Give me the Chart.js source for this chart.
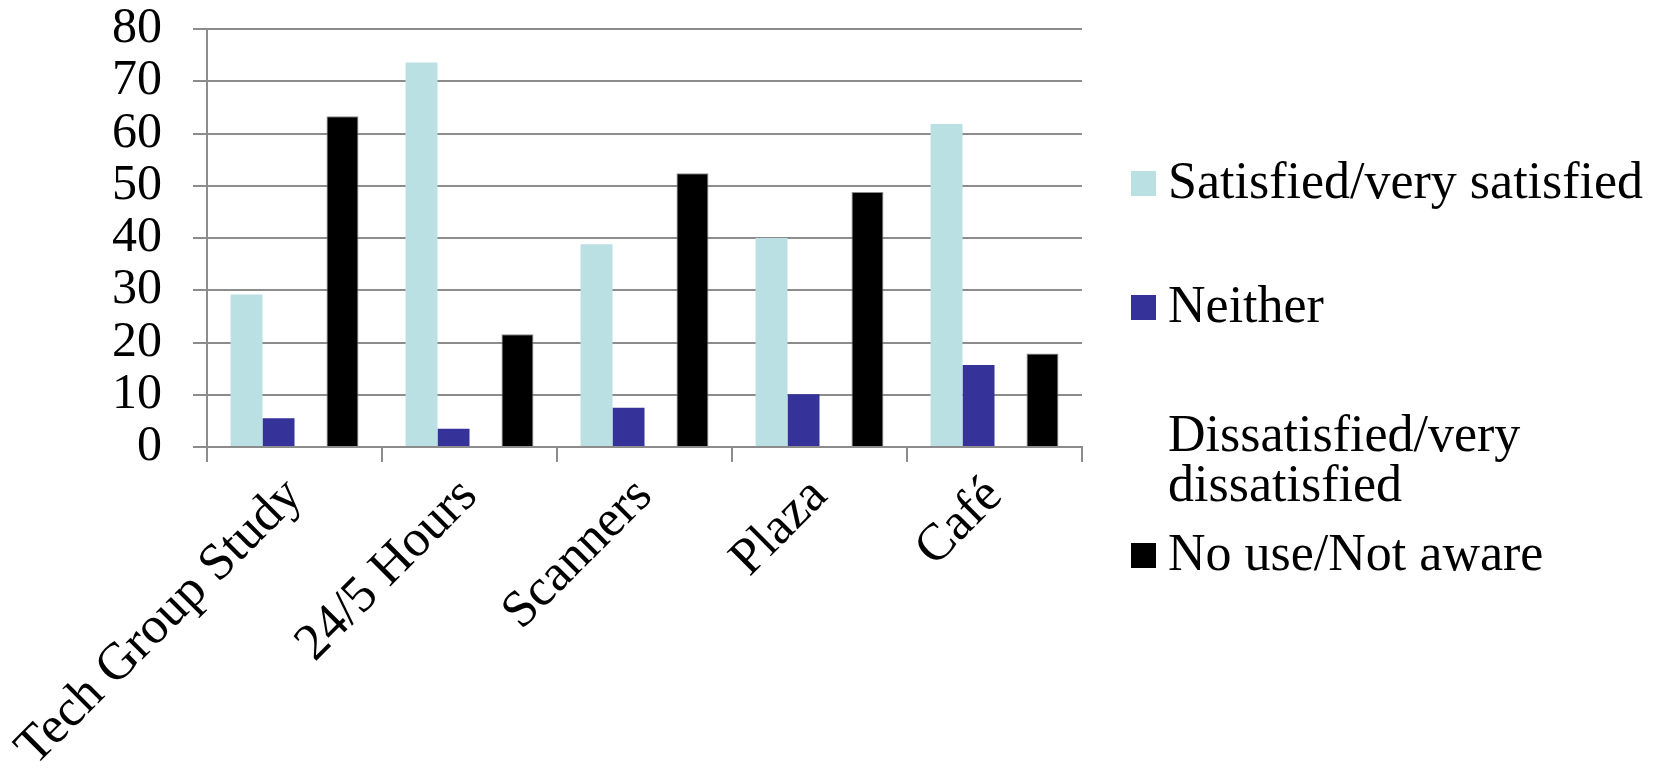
<!DOCTYPE html>
<html>
<head>
<meta charset="utf-8">
<title>Satisfaction with library services</title>
<script src="https://cdn.jsdelivr.net/npm/chart.js@4/dist/chart.umd.min.js"></script>
<style>
  html, body { margin: 0; padding: 0; background: #ffffff; }
  #wrap { width: 1662px; height: 775px; position: relative; }
</style>
</head>
<body>
<div id="wrap"><canvas id="chart"></canvas></div>
<script>
// Services surveyed
const categories = ['Tech Group Study', '24/5 Hours', 'Scanners', 'Plaza', 'Café'];

// Percent of respondents per response
const satisfied    = [29.2, 73.6, 38.8, 40.0, 61.8];
const neither      = [5.5, 3.5, 7.5, 10.1, 15.7];
const dissatisfied = [0, 0, 0, 0, 0];
const noUse        = [63.3, 21.6, 52.4, 48.8, 17.9];

const seriesNames = [
  'Satisfied/very satisfied',
  'Neither',
  'Dissatisfied/very dissatisfied',
  'No use/Not aware'
];

const yTicks = [0, 10, 20, 30, 40, 50, 60, 70, 80];

const FONT = '"Liberation Serif", "Times New Roman", serif';
const GRID = '#8c8c8c';

// Legend on the right: swatch + wrapped label, one slot per series
const sideLegend = {
  id: 'sideLegend',
  afterDraw(chart) {
    const ctx = chart.ctx;
    const baselines = [198, 322, 451, 570];
    const swatchX = 1131, swatchSize = 25, textX = 1168;
    const maxWidth = 490, lineHeight = 50;
    ctx.save();
    ctx.font = '52px ' + FONT;
    ctx.textAlign = 'left';
    ctx.textBaseline = 'alphabetic';
    chart.data.datasets.forEach((ds, i) => {
      const base = baselines[i];
      ctx.fillStyle = ds.backgroundColor;
      ctx.fillRect(swatchX, base - swatchSize - 2, swatchSize, swatchSize);
      // wrap words to the legend width
      const words = ds.label.split(' ');
      const lines = [];
      let line = '';
      words.forEach(w => {
        const test = line ? line + ' ' + w : w;
        if (line && ctx.measureText(test).width > maxWidth) {
          lines.push(line);
          line = w;
        } else {
          line = test;
        }
      });
      if (line) lines.push(line);
      ctx.fillStyle = '#000000';
      lines.forEach((l, k) => ctx.fillText(l, textX, base + k * lineHeight));
    });
    ctx.restore();
  }
};

new Chart(document.getElementById('chart'), {
  type: 'bar',
  data: {
    labels: categories,
    datasets: [
      { label: seriesNames[0], data: satisfied,    backgroundColor: '#bae0e3', borderWidth: 0 },
      { label: seriesNames[1], data: neither,      backgroundColor: '#353399', borderWidth: 0 },
      { label: seriesNames[2], data: dissatisfied, backgroundColor: '#ffffff', borderWidth: 0 },
      { label: seriesNames[3], data: noUse,        backgroundColor: '#000000', borderColor: '#8a8a8a', borderWidth: 1 }
    ]
  },
  options: {
    responsive: true,
    maintainAspectRatio: false,
    animation: false,
    devicePixelRatio: 1,
    layout: { padding: { top: 29, right: 580, bottom: 0, left: 0 } },
    datasets: { bar: { categoryPercentage: 0.731, barPercentage: 1.0 } },
    plugins: {
      legend: { display: false },
      tooltip: { enabled: false }
    },
    scales: {
      x: {
        grid: {
          display: true,
          drawOnChartArea: false,
          drawTicks: true,
          tickLength: 15,
          color: GRID,
          lineWidth: 2,
          offset: true
        },
        border: { display: true, color: GRID, width: 2 },
        ticks: {
          color: '#000000',
          font: { family: FONT, size: 52 },
          minRotation: 45,
          maxRotation: 45,
          padding: 4,
          autoSkip: false
        },
        afterFit(scale) {
          scale.height = 328;
          scale.paddingLeft = 0;
          scale.paddingRight = 0;
        }
      },
      y: {
        min: 0,
        max: 80,
        afterBuildTicks(scale) { scale.ticks = yTicks.map(v => ({ value: v })); },
        grid: {
          color: GRID,
          lineWidth: 2,
          drawTicks: true,
          tickLength: 14
        },
        border: { display: true, color: GRID, width: 2 },
        ticks: {
          color: '#000000',
          font: { family: FONT, size: 50 },
          padding: 31,
          autoSkip: false
        },
        afterFit(scale) {
          scale.width = 207;
          scale.paddingTop = 0;
          scale.paddingBottom = 0;
        }
      }
    }
  },
  plugins: [sideLegend]
});
</script>
</body>
</html>
